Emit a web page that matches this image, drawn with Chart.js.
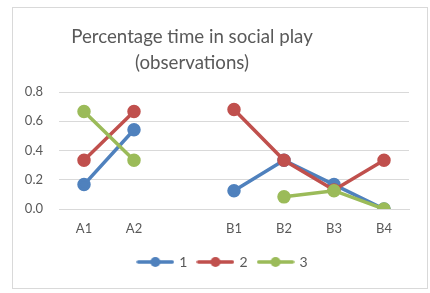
<!DOCTYPE html>
<html lang="en">
<head>
<meta charset="UTF-8">
<title>Percentage time in social play</title>
<script src="https://cdn.jsdelivr.net/npm/chart.js"></script>
<style>
  html, body { margin: 0; padding: 0; background: #fff; }
  #wrap { position: relative; width: 430px; height: 293px; }
</style>
</head>
<body>
<div id="wrap"><canvas id="chart" width="430" height="293"></canvas></div>
<script>
// data
let categories = ['A1', 'A2', '', 'B1', 'B2', 'B3', 'B4'];
let series1 = [0.167, 0.542, null, 0.125, 0.333, 0.167, 0];
let series2 = [0.333, 0.667, null, 0.68, 0.333, 0.13, 0.333];
let series3 = [0.667, 0.333, null, null, 0.083, 0.125, 0];
let seriesNames = ['1', '2', '3'];
let titleLines = ['Percentage time in social play', '(observations)'];

let colors = ['#4F81BD', '#C0504D', '#9BBB59'];
let font = 'Lato, "Open Sans", sans-serif';
let grey = '#595959';

// legend marker: line with a dot in the middle
function legendMarker(color) {
    let c = document.createElement('canvas');
    c.width = 38; c.height = 12;
    let g = c.getContext('2d');
    g.strokeStyle = color;
    g.lineWidth = 3.5;
    g.lineCap = 'round';
    g.beginPath();
    g.moveTo(2, 6); g.lineTo(36, 6);
    g.stroke();
    g.fillStyle = color;
    g.beginPath();
    g.arc(19, 6, 5, 0, Math.PI * 2);
    g.fill();
    return c;
}
let markers = colors.map(legendMarker);

let frame = {
    id: 'frame',
    beforeDraw(chart) {
        let ctx = chart.ctx;
        ctx.save();
        ctx.fillStyle = '#fff';
        ctx.fillRect(0, 0, chart.width, chart.height);
        ctx.strokeStyle = '#d9d9d9';
        ctx.lineWidth = 1;
        ctx.strokeRect(12.5, 7.5, 415, 281);
        ctx.restore();
    },
    afterLayout(chart) {
        // legend sits a little right of centre in the original
        let lg = chart.legend;
        lg.left += 12;
        lg.right += 12;
    },
    afterDraw(chart) {
        let ctx = chart.ctx;
        ctx.save();
        ctx.fillStyle = grey;
        ctx.font = '18.7px ' + font;
        ctx.textAlign = 'center';
        ctx.textBaseline = 'middle';
        ctx.fillText(titleLines[0], 192, 37);
        ctx.fillText(titleLines[1], 192, 63);
        ctx.restore();
    }
};

function makeSet(label, data, i) {
    return {
        label: label,
        data: data,
        borderColor: colors[i],
        backgroundColor: colors[i],
        borderWidth: 3.5,
        pointRadius: 5,
        pointHoverRadius: 5,
        pointStyle: 'circle',
        order: 3 - i,
        spanGaps: false,
        tension: 0
    };
}

new Chart(document.getElementById('chart'), {
    type: 'line',
    data: {
        labels: categories,
        datasets: [
            makeSet(seriesNames[0], series1, 0),
            makeSet(seriesNames[1], series2, 1),
            makeSet(seriesNames[2], series3, 2)
        ]
    },
    options: {
        responsive: false,
        animation: false,
        layout: { padding: { left: 13, right: 21, top: 92, bottom: 14 } },
        plugins: {
            legend: {
                position: 'bottom',
                labels: {
                    usePointStyle: true,
                    pointStyleWidth: 34,
                    boxHeight: 12,
                    padding: 11,
                    color: grey,
                    font: { family: font, size: 14 },
                    generateLabels(chart) {
                        let items = Chart.defaults.plugins.legend.labels.generateLabels(chart);
                        items.forEach(it => { it.pointStyle = markers[it.datasetIndex]; });
                        return items;
                    },
                    sort: (a, b) => a.datasetIndex - b.datasetIndex
                }
            },
            tooltip: { enabled: false }
        },
        scales: {
            x: {
                offset: true,
                grid: { display: false, drawTicks: false },
                border: { color: '#d9d9d9' },
                ticks: { color: grey, font: { family: font, size: 13 }, padding: 12, maxRotation: 0 },
                afterFit(scale) { scale.height = 35; }
            },
            y: {
                min: 0,
                max: 0.8,
                grid: { color: '#d9d9d9', drawTicks: false },
                border: { display: false },
                ticks: {
                    stepSize: 0.2,
                    color: grey,
                    font: { family: font, size: 13 },
                    padding: 16,
                    callback: v => v.toFixed(1)
                },
                afterFit(scale) { scale.width = 46; }
            }
        }
    },
    plugins: [frame]
});
</script>
</body>
</html>
